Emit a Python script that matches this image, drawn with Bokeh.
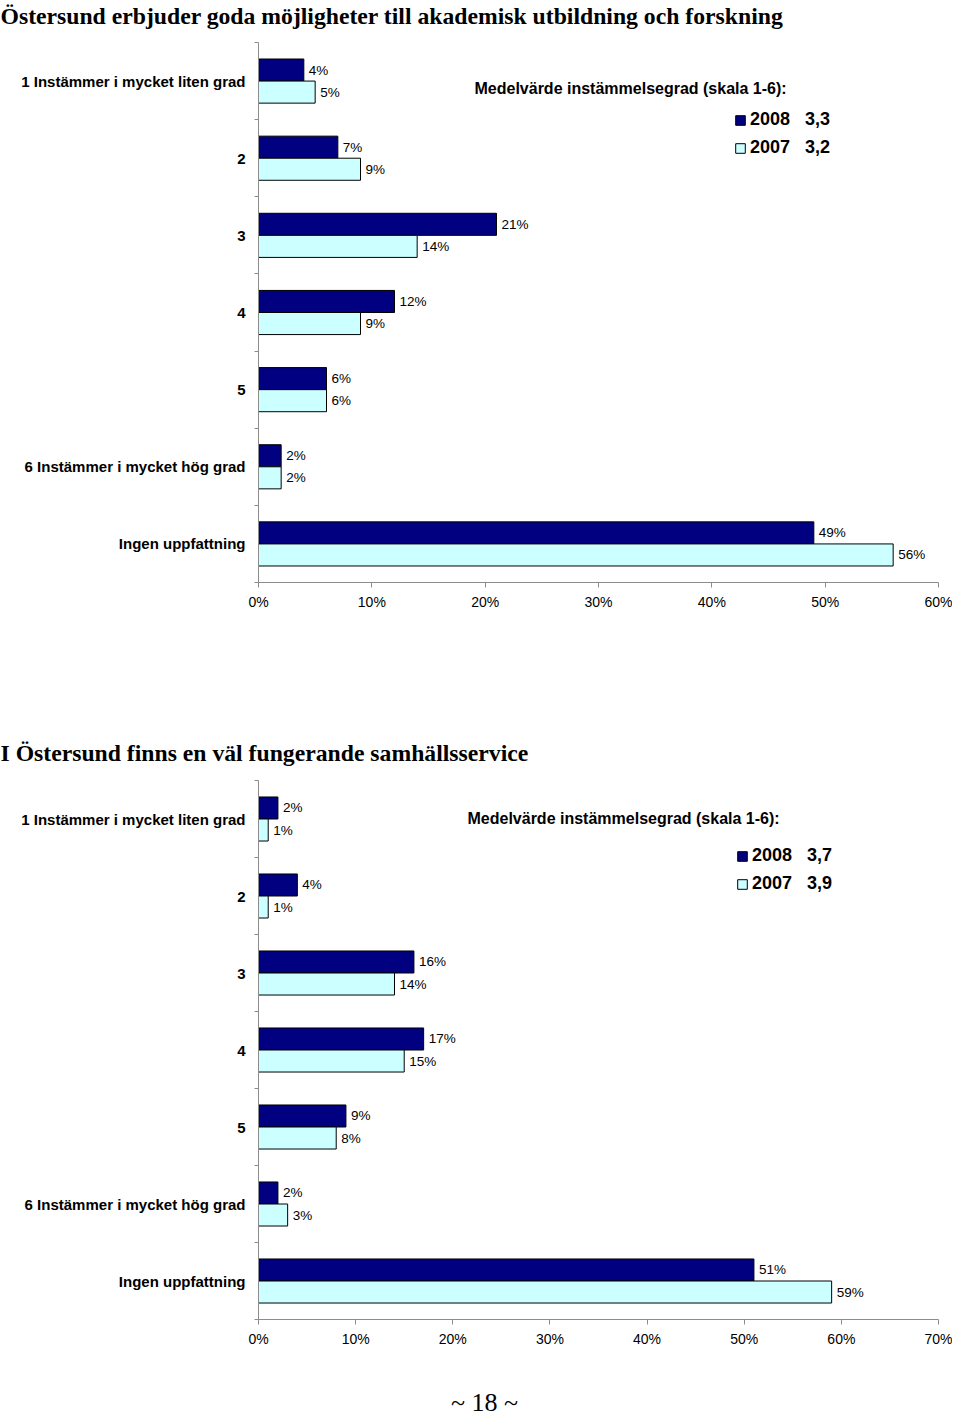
from bokeh.plotting import figure
from bokeh.models import (Range1d, FixedTicker, Label, Legend, LegendItem,
                          PrintfTickFormatter, ColumnDataSource)
from bokeh.layouts import column
from bokeh.embed import file_html
from bokeh.resources import INLINE
from bokeh.core.properties import value

# ---------------- data ----------------
categories = ["1 Instämmer i mycket liten grad", "2", "3", "4", "5",
              "6 Instämmer i mycket hög grad", "Ingen uppfattning"]
series_names = ["2008", "2007"]

title1 = "Östersund erbjuder goda möjligheter till akademisk utbildning och forskning"
c1_2008 = [4, 7, 21, 12, 6, 2, 49]
c1_2007 = [5, 9, 14, 9, 6, 2, 56]
c1_means = ["3,3", "3,2"]
c1_ticks = [0, 10, 20, 30, 40, 50, 60]

title2 = "I Östersund finns en väl fungerande samhällsservice"
c2_2008 = [2, 4, 16, 17, 9, 2, 51]
c2_2007 = [1, 1, 14, 15, 8, 3, 59]
c2_means = ["3,7", "3,9"]
c2_ticks = [0, 10, 20, 30, 40, 50, 60, 70]

header = "Medelvärde instämmelsegrad (skala 1-6):"
page_number = "~ 18 ~"

DARK = "#000080"
LIGHT = "#CCFFFF"
AXIS = "#8c8c8c"
SANS = "Liberation Sans"
SERIF = "Liberation Serif"

W = 952
LEFT = 258
FRAME_W = 680


def text_strip(text, height, x, y, size, style, align="left"):
    """A figure without axes that only carries one line of text."""
    f = figure(width=W, height=height, output_backend="svg", toolbar_location=None,
               title=None, x_axis_type=None, y_axis_type=None,
               x_range=Range1d(0, 1), y_range=Range1d(0, 1),
               min_border_left=0, min_border_right=0, min_border_top=0, min_border_bottom=0)
    f.frame_align = False
    f.grid.visible = False
    f.outline_line_color = None
    f.add_layout(Label(x=x, y=y, x_units="screen", y_units="screen", text=text,
                       text_font=SERIF, text_font_size=size, text_font_style=style,
                       text_align=align, text_baseline="middle", text_color="black"))
    return f


def make_chart(v08, v07, means, ticks, height, top, bottom,
               header_x, header_y, legend_x, legend_y_top):
    n = len(categories)
    idx = list(range(n))
    frame_h = height - top - bottom
    p = figure(width=W, height=height, output_backend="svg", toolbar_location=None,
               title=None, x_range=Range1d(0, ticks[-1]), y_range=Range1d(n - 0.5, -0.5),
               min_border_left=LEFT, min_border_right=W - LEFT - FRAME_W,
               min_border_top=top, min_border_bottom=bottom)
    p.outline_line_color = None
    p.xgrid.visible = False
    p.ygrid.visible = False
    p.background_fill_color = "white"
    p.border_fill_color = "white"

    half = 0.143
    src = ColumnDataSource(dict(
        y08=[i - half for i in idx], y07=[i + half for i in idx],
        v08=v08, v07=v07,
        l08=[f"{v}%" for v in v08], l07=[f"{v}%" for v in v07]))
    r08 = p.hbar(y="y08", left=0, right="v08", height=2 * half, source=src,
                 fill_color=DARK, line_color="black", line_width=1)
    r07 = p.hbar(y="y07", left=0, right="v07", height=2 * half, source=src,
                 fill_color=LIGHT, line_color="black", line_width=1)
    for col, ycol, lab in (("v08", "y08", "l08"), ("v07", "y07", "l07")):
        p.text(x=col, y=ycol, text=lab, source=src, x_offset=5,
               text_baseline="middle", text_align="left",
               text_font=value(SANS), text_font_size="13.5px",
               text_font_style="normal", text_color="black")

    # y axis
    ya = p.yaxis[0]
    ya.ticker = FixedTicker(ticks=idx, minor_ticks=[i - 0.5 for i in range(n + 1)])
    ya.major_label_overrides = {i: c for i, c in zip(idx, categories)}
    ya.major_tick_line_color = None
    ya.major_tick_in = 0
    ya.major_tick_out = 0
    ya.minor_tick_in = 0
    ya.minor_tick_out = 4
    ya.minor_tick_line_color = AXIS
    ya.axis_line_color = AXIS
    ya.major_label_standoff = 9
    ya.major_label_text_font = SANS
    ya.major_label_text_font_size = "15px"
    ya.major_label_text_font_style = "bold"
    ya.major_label_text_color = "black"

    # x axis
    xa = p.xaxis[0]
    xa.ticker = FixedTicker(ticks=ticks)
    xa.formatter = PrintfTickFormatter(format="%d%%")
    xa.major_tick_in = 0
    xa.major_tick_out = 5
    xa.minor_tick_line_color = None
    xa.major_tick_line_color = AXIS
    xa.axis_line_color = AXIS
    xa.major_label_standoff = 6
    xa.major_label_text_font = SANS
    xa.major_label_text_font_size = "14px"
    xa.major_label_text_color = "black"

    # legend header
    p.add_layout(Label(x=header_x, y=frame_h - header_y, x_units="screen", y_units="screen",
                       text=header, text_font=SANS, text_font_size="16px",
                       text_font_style="bold", text_baseline="middle", text_color="black"))
    items = [LegendItem(label=f"{s}\u00a0\u00a0\u00a0{m}", renderers=[r])
             for s, m, r in zip(series_names, means, (r08, r07))]
    leg = Legend(items=items, location=(legend_x, frame_h - legend_y_top - 47),
                 glyph_width=12, glyph_height=12, label_standoff=4,
                 label_height=20, spacing=7, padding=0, margin=0,
                 label_text_font=SANS, label_text_font_size="18px",
                 label_text_font_style="bold", label_text_color="black",
                 border_line_color=None, background_fill_alpha=0)
    p.add_layout(leg, "center")
    return p


t1 = text_strip(title1, 34, 0, 19, "23.7px", "bold")
p1 = make_chart(c1_2008, c1_2007, c1_means, c1_ticks, height=678, top=8, bottom=130,
                header_x=216, header_y=46, legend_x=476, legend_y_top=69)
t2 = text_strip(title2, 58, 0, 18, "23.7px", "bold")
p2 = make_chart(c2_2008, c2_2007, c2_means, c2_ticks, height=579, top=10, bottom=30,
                header_x=209, header_y=38, legend_x=478, legend_y_top=67)
p3 = text_strip(page_number, 70, 484, 17, "26px", "normal", align="center")

layout = column(t1, p1, t2, p2, p3, spacing=0)
open("out.html", "w").write(file_html(layout, INLINE))
